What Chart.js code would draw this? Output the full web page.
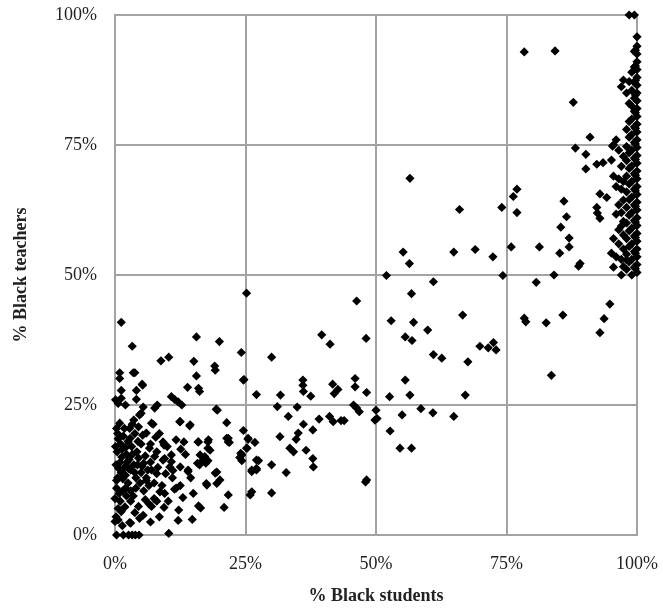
<!DOCTYPE html>
<html>
<head>
<meta charset="utf-8">
<script src="https://cdn.jsdelivr.net/npm/chart.js@4"></script>
<style>
  html, body { margin: 0; padding: 0; background: #fff; }
  #wrap { width: 663px; height: 611px; position: relative; }
</style>
</head>
<body>
<div id="wrap"><canvas id="chart"></canvas></div>
<script>
// 数据：[% Black students, % Black teachers]，按区域分组
const axisTicks = [0, 25, 50, 75, 100];

const lowCluster = [
  [0.3,0],[1.6,0],[2.6,0],[3.3,0],[3.9,0],[4.6,0],[10.3,0.3],
  [0.6,2.9],[2.8,2.4],[4.7,3.2],[5.4,3.8],[12.1,2.8],[12.2,4.8],[9.4,5.3],[0,2.6],[3,2.3],
  [0.6,5.1],[1.9,5.4],[1.2,4.5],[0,7],[3,6.5],[6.5,6],[7.5,7],
  [11.4,8.8],[8.6,8.3],[9.5,8],[0.3,9],[1.5,8.5],[2.5,10],[4,9],[5.5,8.5],[6.5,9.5],[3.5,7.5],
  [0.5,11],[1.2,12],[2,11.5],[3,12.5],[4,11],[5,12],[6,11],[7,12.5],[8,11.8],[10.5,13.1],[11.1,12.4],
  [0.2,13.5],[1,14],[1.8,13],[2.7,14.5],[3.6,13.5],[4.5,14.8],[5.5,13.8],[6.8,14],[9.2,14.4],[9.5,14.7],[7.6,15.1],[10.8,15.4],
  [0.4,16],[1.4,16.5],[2.2,15.5],[3.2,17],[4.2,16],[5,17.5],[6.6,16.7],[9.2,17.9],[9.4,17.3],[11.7,18.3],[13.2,17.9],
  [0.6,18.5],[1.6,19],[2.5,18],[3.8,19.5],[6,19.6],[0.3,20.5],[2.8,20.5],[3.3,21.3],[3.6,22.1],[0.9,21.5],[7.3,21.3],[7,21.5],
  [0.2,3.5],[1,6.5],[2.2,7.5],[4.5,5.5],[5.8,6.8],[7,5.5],[8,6.5],[0.8,8],[2,9],[3,8.5],[4.8,10],[6,10.5],[7.5,10],[9,9.5],
  [0.3,10.5],[1.5,10.8],[2.6,12.8],[3.8,12],[5.2,13.2],[6.3,12.5],[8.2,13],[0.7,12.8],[1.3,15],[2.3,14],[3.3,15.5],[4.3,13.5],
  [5.8,15.2],[6.8,17.5],[8,16],[0.1,17],[1.1,17.5],[2,16.8],[2.9,18.6],[4.4,18],[5.3,19.2],[7.8,18.8],[0.5,19.5],[1.8,20.5],
  [4.5,20.8],[8.5,19.5],[10,17],[11,11],[12.5,9.5],[13.5,15.5],[14.5,11],[12.6,16.5],[9.7,11.8],[10.2,6.5],[13,7.2],[15,8],
  [14.8,3],[6.8,2.5],[8.5,3.5],[3.8,4.3],[1.4,1.8],[11.7,9],[12.5,13.1],[10.8,14.1],[14,12.5],[12.5,21.8],[14.4,21.2],
  [15.9,17.9],[17.8,17.9],[17.8,16.7],[17.2,15.1],[17.8,14.3],[15.8,13.8],[16.2,13.5],[14,12.2],[19.2,11.9],[17.5,9.9],
  [16,5.6],[16.4,5.2],[12.4,21.8],[14.3,21],[17.6,9.6],[19.5,9.9],[16.3,15.4],[16.9,14.4],[17.4,13.8],[16,17.9],[17.9,18.3],[18.2,16.3]
];

const leftMid = [
  [1.2,40.9],[3.3,36.3],[15.6,38.1],[20,37.2],[24.2,35.1],[8.8,33.5],[10.3,34.2],[15.1,33.4],[19.1,32.5],[19.2,31.7],
  [0.9,31.2],[0.9,30.1],[3.8,31.2],[3.5,31.2],[15.6,30.6],[24.7,29.9],[5.2,29],[5.3,28.8],[13.9,28.4],[16,28.2],[16.2,27.6],
  [1.2,27.8],[4.1,27.8],[0.1,26],[1.2,26.3],[2,25],[0.6,25.3],[4.1,26.1],[10.8,26.6],[11.4,26.1],[12.1,25.6],[12.8,25],
  [8.1,25],[7.6,24.4],[19.4,24.2],[5.4,24.6],[5,23.4],[4.7,23.1],[19.6,24],[21.4,21.6],[24.6,20.1],[25.2,46.5],
  [21.4,18.6],[21.7,17.9],[25.5,18.6],[25.2,16.7],[24.3,15.4],[27.1,14.4],[26.2,12.5],[27.1,12.8]
];

const midBand = [
  [27.1,27],[31.7,26.9],[30,34.2],[36,29.8],[36,28.8],[36.1,27.6],[37.5,26.7],[41.7,29],[42,27.2],[42.7,28],[46,30.1],
  [46,28.5],[48.2,27.4],[31.1,24.7],[34.9,24.6],[45.7,25],[46.3,24.4],[46.8,23.7],[33.2,22.8],[39.1,22.3],[41.1,22.8],
  [41.8,21.8],[43.3,22],[43.9,22],[36.1,21.3],[37.9,20.2],[35.1,19.6],[34.7,18.4],[31.6,18.9],[33.5,16.7],[34.2,16],
  [36.6,16.3],[37.9,14.7],[38,13.1],[30,13.5],[39.6,38.5],[41.2,36.7],[48.1,37.8],[46.3,45],[48.2,10.6],[48,10.2],
  [26.2,8.3],[25.9,7.7],[30,8.1],[21.7,7.7],[20.9,5.3],[21.7,18.6],[21.9,17.8],[25.5,18.4],[26.8,17.8],[25.3,16.7],
  [24.1,15.7],[23.9,14.9],[24.3,14.3],[27.5,14.3],[27.1,12.5],[26.2,12.2],[32.8,12],[19.5,12.1],[20.1,10.6],[24.6,29.8]
];

const upperBand = [
  [50,24],[49.8,22.1],[50.2,22.4],[55,23.1],[58.6,24.3],[60.9,23.5],[64.9,22.8],[52.7,20],[54.6,16.7],[56.8,16.7],
  [52.6,26.6],[56.5,26.9],[67.1,26.9],[55.6,29.8],[61,34.7],[62.6,34],[67.6,33.3],[55.6,38.1],[56.9,37.4],[59.9,39.4],
  [52.9,41.2],[57.2,40.9],[66.6,42.3],[56.8,46.4],[61,48.7],[52,49.9],[74.3,49.9],[55.2,54.4],[56.4,52.2],[64.9,54.4],
  [69,54.9],[72.4,53.5],[75.9,55.4],[56.5,68.6],[66,62.6],[74.1,63],[77,66.5],[76.3,65.1],[77,62],[69.9,36.3],
  [71.5,36],[72.5,37],[73,35.6],[78.4,41.7],[78.7,41],[82.6,40.8],[85.8,42.3],[94.8,44.4],[93.7,41.6],[92.9,38.9],
  [83.6,30.7],[80.7,48.6],[84.1,50],[85.2,54.2],[81.3,55.4],[87,57.1],[87,55.4],[85.4,59.2],[86.5,61.2],[86,64.2],
  [89.1,52.2],[88.8,51.7],[84.3,93.1],[78.4,92.9],[87.8,83.2],[91,76.5],[88.2,74.4],[90.2,73.2],[90.2,70.4],[92.3,71.3],
  [93.5,71.6],[95.3,74.8],[95.1,72.1],[92.9,65.6],[94.2,64.9],[92.3,63],[92.4,61.9],[92.9,60.9],[95.1,54.2],[97,50]
];

const rightColumn = [
  [98.5,100],[99.5,100],
  [100,95.8],[100,94],[100,92.5],[100,91],[100,89.5],[100,88],[100,86.5],[100,85],[100,83.5],[100,82],[100,80.5],
  [100,79],[100,77.5],[100,76],[100,74.5],[100,73],[100,71.5],[100,70],[100,68.5],[100,67],[100,65.5],[100,64],
  [100,62.5],[100,61],[100,59.5],[100,58],[100,56.5],[100,55],[100,53.5],[100,52],[100,50.5],
  [99.7,93.2],[99.7,90.2],[99.7,87.4],[99.7,84.6],[99.7,81.2],[99.7,78.2],[99.7,75.2],[99.7,72.2],[99.7,69.2],
  [99.7,66.2],[99.7,63.2],[99.7,60.2],[99.7,57.2],[99.7,54.2],[99.7,51.2],
  [99.5,93],[99.5,90],[99.5,87],[99.5,84],[99.5,81.5],[99.5,78.5],[99.5,75.5],[99.5,72.5],[99.5,69.5],[99.5,66.5],
  [99.5,63.5],[99.5,60.5],[99.5,57.5],[99.5,54.5],[99.5,51.5],
  [99,89],[99,85.5],[99,82.5],[99,80],[99,77],[99,74],[99,71],[99,68],[99,65],[99,62],[99,59],[99,56],[99,53],[99,50],
  [98.5,87.2],[98.5,83],[98.5,79.5],[98.5,76.5],[98.5,73.5],[98.5,70.5],[98.5,67.5],[98.5,64.5],[98.5,61.5],[98.5,58.5],
  [98.5,55.5],[98.5,52.5],
  [98,85],[98,78],[98,74.7],[98,72],[98,69],[98,66],[98,63],[98,60],[98,57],[98,54],[98,51.1],[98,52.9],
  [97.4,87.5],[97.4,72.8],[97.4,68],[97.4,64.4],[97.4,60.3],[97.4,57.7],[97.4,51.6],[97.4,55],
  [97,86.2],[97,70.9],[97,66.5],[97,62],[97,59.4],[97,53],
  [96.5,74],[96.5,68.5],[96.5,63.5],[96.5,58.7],[96.5,56],
  [96,76],[96,61.7],[96,67],[96,53.5],
  [95.5,75],[95.5,69],[95.5,57],[95.5,51.5]
];

const allPoints = [].concat(lowCluster, leftMid, midBand, upperBand, rightColumn)
  .map(p => ({ x: p[0], y: p[1] }));

const gridColor = '#a3a3a3';
const tickFont = { family: "'Liberation Serif', 'DejaVu Serif', serif", size: 18 };
const titleFont = { family: "'Liberation Serif', 'DejaVu Serif', serif", size: 18, weight: 'bold' };
const pct = v => v + '%';

// 去掉刻度标签溢出的自动留白，让绘图区固定在 115..637 x 15..535
function noOverflow(s) { s.paddingLeft = 0; s.paddingRight = 0; s.paddingTop = 0; s.paddingBottom = 0; }

new Chart(document.getElementById('chart').getContext('2d'), {
  type: 'scatter',
  data: { datasets: [{
    data: allPoints, pointStyle: 'rectRot', pointRadius: 4.6, pointHoverRadius: 4.6,
    backgroundColor: '#000', borderColor: '#000', borderWidth: 0, clip: false
  }]},
  options: {
    responsive: true, maintainAspectRatio: false, animation: false,
    layout: { padding: { top: 15, right: 26, left: 0, bottom: 0 } },
    plugins: { legend: { display: false }, tooltip: { enabled: false } },
    scales: {
      x: {
        type: 'linear', min: 0, max: 100,
        afterBuildTicks: s => { s.ticks = axisTicks.map(v => ({ value: v })); },
        afterFit: s => { s.height = 76; noOverflow(s); },
        grid: { color: gridColor, lineWidth: 2, drawTicks: false },
        border: { color: gridColor, width: 2 },
        ticks: { callback: pct, font: tickFont, color: '#222', padding: 18, maxRotation: 0 },
        title: { display: true, text: '% Black students', font: titleFont, color: '#222', padding: { top: 0, bottom: 4 } }
      },
      y: {
        type: 'linear', min: 0, max: 100,
        afterBuildTicks: s => { s.ticks = axisTicks.map(v => ({ value: v })); },
        afterFit: s => { s.width = 115; noOverflow(s); },
        grid: { color: gridColor, lineWidth: 2, drawTicks: false },
        border: { color: gridColor, width: 2 },
        ticks: { callback: pct, font: tickFont, color: '#222', padding: 18 },
        title: { display: true, text: '% Black teachers', font: titleFont, color: '#222', padding: { top: 11, bottom: 0 } }
      }
    }
  }
});
</script>
</body>
</html>
